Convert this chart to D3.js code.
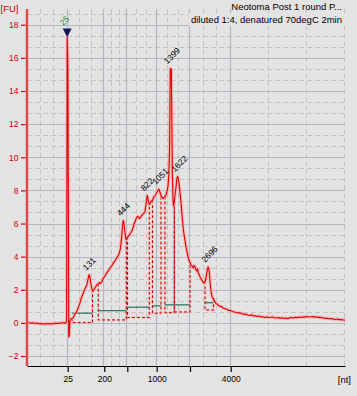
<!DOCTYPE html>
<html><head><meta charset="utf-8">
<script src="https://cdn.jsdelivr.net/npm/d3@7"></script>
<style>html,body{margin:0;padding:0;background:#e3e3e3;} svg{display:block;}</style>
</head><body>
<svg id="c" width="357" height="396"></svg>
<script>
// ---------- data ----------
const titleText = "Neotoma Post 1 round P...";
const subtitleText = "diluted 1:4, denatured 70degC 2min";
const yUnit = "[FU]";
const xUnit = "[nt]";
// migration time (s) of ladder fragments and their sizes (nt)
const ladderSizes = [25, 200, 500, 1000, 2000, 4000];
const ladderTimes = [25.40, 31.15, 34.77, 39.39, 44.63, 51.03];
const ladderLabels = ["25", "200", "", "1000", "", "4000"];
const timeRange = [19, 69];
const yTicks = [-2, 0, 2, 4, 6, 8, 10, 12, 14, 16, 18];
const fuRange = [-2.6, 18.95];

// electropherogram trace: time (s) and fluorescence (FU)
const traceTime = [
 19.0,19.3,19.6,19.9,20.2,20.5,20.8,21.1,21.4,21.7,22.0,22.3,22.6,22.9,23.2,23.5,23.8,24.1,24.4,24.7,25.0,25.15,
 25.23,25.32,25.42,25.51,25.57,25.65,25.73,25.81,26.00,26.23,26.47,26.81,27.10,27.33,27.60,27.85,28.12,28.39,28.56,28.69,28.80,28.91,29.02,29.17,29.33,29.49,29.69,29.96,
 30.16,30.37,30.56,30.75,31.00,31.26,31.53,31.78,32.05,32.32,32.57,32.84,33.10,33.31,33.51,33.67,33.78,33.89,33.98,34.09,34.17,34.25,34.36,34.46,34.57,34.68,34.80,34.93,
 35.12,35.27,35.46,35.67,35.82,35.98,36.14,36.34,36.53,36.66,36.77,36.92,37.08,37.24,37.40,37.55,37.68,37.79,37.90,37.99,38.10,38.23,38.39,38.53,38.65,38.81,38.97,
 39.13,39.28,39.44,39.60,39.72,39.83,39.99,40.15,40.30,40.46,40.62,40.78,40.90,41.04,41.17,41.30,41.41,41.53,41.69,41.77,41.86,41.96,42.03,42.14,42.27,42.43,42.58,42.69,
 42.79,42.90,43.02,43.13,43.25,43.36,43.47,43.59,43.72,43.84,43.97,44.11,44.25,44.39,44.52,44.66,44.82,44.97,45.15,45.29,45.42,45.57,45.70,45.82,45.93,46.09,46.28,46.44,
 46.59,46.74,46.88,47.03,47.14,47.25,47.35,47.46,47.55,47.66,47.76,47.87,47.98,48.09,48.25,48.40,48.56,48.72,48.87,49.03,49.19,49.35,49.58,49.82,50.05,50.29,50.53,50.76,51.00,
 51.3,51.6,51.9,52.2,52.5,52.8,53.1,53.4,53.7,54.0,54.3,54.6,54.9,55.2,55.5,55.8,56.1,56.4,56.7,57.0,57.3,57.6,57.9,58.2,58.5,58.8,59.1,59.4,59.7,60.0,
 60.3,60.6,60.9,61.2,61.5,61.8,62.1,62.4,62.7,63.0,63.3,63.6,63.9,64.2,64.5,64.8,65.1,65.4,65.7,66.0,66.3,66.6,66.9,67.2,67.5,67.8,68.1,68.4,68.7,69.0
];
const traceFU = [
 0.00,0.03,-0.02,0.01,-0.03,0.00,-0.05,-0.03,-0.07,-0.05,-0.06,-0.04,-0.07,-0.03,-0.05,-0.01,-0.03,0.00,-0.02,0.02,-0.01,0.02,
 0.06,17.25,15.80,6.82,-0.84,-0.78,0.06,0.18,0.27,0.30,0.48,0.68,0.97,1.21,1.57,1.81,2.08,2.26,2.59,2.83,2.90,2.71,2.41,2.11,1.90,1.99,2.11,2.29,
 2.35,2.44,2.38,2.47,2.71,2.83,3.02,3.14,3.32,3.44,3.62,3.74,3.92,4.04,4.22,4.46,4.76,5.25,5.67,6.09,6.18,5.97,5.61,5.31,5.04,5.07,5.19,5.22,
 5.31,5.43,5.52,5.73,5.97,6.12,6.27,6.42,6.39,6.30,6.33,6.42,6.51,6.57,6.63,6.73,7.06,7.42,7.69,7.60,7.30,7.15,7.24,7.36,7.33,7.48,7.63,
 7.69,7.78,7.90,7.99,8.08,7.99,7.78,7.60,7.57,7.51,7.60,7.66,7.78,7.99,8.26,8.93,10.43,15.36,15.32,12.42,8.93,7.42,7.06,7.24,7.72,8.20,8.75,8.84,
 8.69,8.44,8.02,7.60,7.12,6.57,6.09,5.61,5.25,5.01,4.64,4.40,4.10,3.89,3.74,3.62,3.47,3.44,3.32,3.47,3.38,3.20,3.14,3.26,3.02,2.90,2.71,2.62,
 2.53,2.41,2.47,2.53,2.71,2.96,3.20,3.38,3.32,3.08,2.59,2.17,1.81,1.60,1.48,1.39,1.27,1.18,1.15,1.09,1.03,1.00,1.00,0.90,0.87,0.84,0.81,0.75,0.75,
 0.69,0.66,0.63,0.60,0.62,0.57,0.51,0.53,0.48,0.45,0.49,0.42,0.43,0.39,0.42,0.36,0.37,0.33,0.36,0.33,0.34,0.36,0.31,0.30,0.33,0.29,0.31,0.27,0.30,0.26,
 0.31,0.33,0.30,0.34,0.32,0.36,0.33,0.37,0.35,0.39,0.36,0.37,0.39,0.35,0.37,0.33,0.35,0.30,0.31,0.27,0.28,0.24,0.27,0.23,0.21,0.24,0.20,0.21,0.18,0.17
];

// lower marker
const markerSize = "25";
const markerTime = 25.32;
const markerFU = 17.25;
const markerLevelStart = 24.97, markerLevelEnd = 25.44, markerLevelFU = 1.99;

// called peaks: size label (nt), migration time (s), height (FU)
const peakSizes = ["131", "444", "822", "1051", "1399", "1622", "2696"];
const peakTimes = [28.80, 34.17, 37.90, 39.72, 41.53, 42.69, 47.46];
const peakFU = [2.90, 6.18, 7.69, 8.08, 15.36, 8.84, 3.38];

// integration regions: start/end time (s), baseline (FU), level line (FU)
const regionStart = [26.08, 30.21, 34.80, 38.73, 40.70, 42.16, 46.99];
const regionEnd = [29.30, 34.61, 38.23, 40.07, 42.16, 44.63, 48.32];
const regionBase = [0.02, 0.18, 0.33, 0.59, 0.62, 0.66, 0.78];
const regionLevel = [0.59, 0.74, 0.95, 1.03, 1.09, 1.09, 1.22];

// ---------- drawing ----------
const W = 357, H = 396;
const plot = {left: 27, right: 345, top: 9, bottom: 366};
const BG = "#e3e3e3";
const FONT = "'Liberation Sans', Arial, sans-serif";

const svg = d3.select("#c");
svg.append("rect").attr("width", W).attr("height", H).attr("fill", BG);

const x = d3.scaleLinear().domain(timeRange).range([plot.left, plot.right]);
const y = d3.scaleLinear().domain(fuRange).range([plot.bottom, plot.top]);

// grid
const grid = svg.append("g");
const minorH = [];
yTicks.forEach(v => { [v + 2/3, v + 4/3].forEach(m => { if (m < fuRange[1]) minorH.push(m); }); });
grid.selectAll(".mh").data(minorH).join("line")
  .attr("x1", plot.left).attr("x2", plot.right)
  .attr("y1", d => Math.round(y(d)) + 0.5).attr("y2", d => Math.round(y(d)) + 0.5)
  .attr("stroke", "#c3c3c3").attr("stroke-dasharray", "5,3");
const bounds = [timeRange[0], ...ladderTimes, timeRange[1]];
const minorV = [];
for (let i = 0; i < bounds.length - 1; i++) {
  const a = bounds[i], b = bounds[i + 1];
  minorV.push(a + (b - a) / 3, a + 2 * (b - a) / 3);
}
minorV.push(timeRange[1]);
grid.selectAll(".mv").data(minorV).join("line")
  .attr("x1", d => Math.round(x(d)) - 0.5).attr("x2", d => Math.round(x(d)) - 0.5)
  .attr("y1", plot.top).attr("y2", plot.bottom)
  .attr("stroke", "#c3c3c3").attr("stroke-dasharray", "5,3");
grid.selectAll(".Mh").data(yTicks).join("line")
  .attr("x1", plot.left).attr("x2", plot.right)
  .attr("y1", d => Math.round(y(d)) + 0.5).attr("y2", d => Math.round(y(d)) + 0.5)
  .attr("stroke", "#b3b7c4").attr("stroke-width", 1.2);
grid.selectAll(".Mv").data(ladderTimes).join("line")
  .attr("x1", d => Math.round(x(d)) - 0.5).attr("x2", d => Math.round(x(d)) - 0.5)
  .attr("y1", plot.top).attr("y2", plot.bottom)
  .attr("stroke", "#b3b7c4").attr("stroke-width", 1.2);

// titles
const t1 = svg.append("text").attr("x", 342).attr("y", 10).attr("text-anchor", "end")
  .attr("font-family", FONT).attr("font-size", "9.5px").attr("fill", "#000").text(titleText);
const t2 = svg.append("text").attr("x", 342).attr("y", 22.5).attr("text-anchor", "end")
  .attr("font-family", FONT).attr("font-size", "9.5px").attr("fill", "#000").text(subtitleText);
const bb = t2.node().getBBox();
svg.insert("rect", () => t2.node())
  .attr("x", bb.x - 2).attr("y", 13).attr("width", plot.right - bb.x + 2).attr("height", 13)
  .attr("fill", BG);

// trace helpers
const trace = traceTime.map((t, i) => ({t, v: traceFU[i]}));
const bis = d3.bisector(d => d.t).left;
function fuAt(t) {
  const i = Math.max(1, Math.min(trace.length - 1, bis(trace, t)));
  const a = trace[i - 1], b = trace[i];
  return a.v + (b.v - a.v) * (t - a.t) / (b.t - a.t);
}

// clip
svg.append("clipPath").attr("id", "clip").append("rect")
  .attr("x", plot.left).attr("y", plot.top).attr("width", plot.right - plot.left).attr("height", plot.bottom - plot.top);
const pg = svg.append("g").attr("clip-path", "url(#clip)");

// integration regions
const regions = regionStart.map((s, i) => ({s, e: regionEnd[i], base: regionBase[i], lvl: regionLevel[i]}));
const regPath = r => {
  const p = d3.path();
  p.moveTo(x(r.s), y(fuAt(r.s)));
  p.lineTo(x(r.s), y(r.base));
  p.lineTo(x(r.e), y(r.base));
  p.lineTo(x(r.e), y(fuAt(r.e)));
  return p.toString();
};
pg.selectAll(".rg").data(regions).join("path").attr("d", regPath)
  .attr("fill", "none").attr("stroke", "#f3b0b0").attr("stroke-width", 2.6).attr("stroke-dasharray", "3,2").attr("opacity", 0.7);
pg.selectAll(".rl").data(regions).join("path").attr("d", regPath)
  .attr("fill", "none").attr("stroke", "#cc0000").attr("stroke-width", 1).attr("stroke-dasharray", "3,2");
pg.selectAll(".lv").data(regions).join("line")
  .attr("x1", d => x(d.s)).attr("x2", d => x(d.e))
  .attr("y1", d => y(d.lvl)).attr("y2", d => y(d.lvl))
  .attr("stroke", "#2b6e58").attr("stroke-width", 1.2);
pg.append("line").attr("x1", x(markerLevelStart)).attr("x2", x(markerLevelEnd))
  .attr("y1", y(markerLevelFU)).attr("y2", y(markerLevelFU))
  .attr("stroke", "#2b6e58").attr("stroke-width", 1.2);

// trace
const line = d3.line().x(d => x(d.t)).y(d => y(d.v));
pg.append("path").datum(trace).attr("d", line).attr("fill", "none")
  .attr("stroke", "#f6a8a8").attr("stroke-width", 3.2).attr("stroke-linejoin", "round").attr("opacity", 0.75);
pg.append("path").datum(trace).attr("d", line).attr("fill", "none")
  .attr("stroke", "#e00000").attr("stroke-width", 1.1).attr("stroke-linejoin", "round");

// y axis
const yAxis = svg.append("g").attr("transform", `translate(${plot.left},0)`)
  .call(d3.axisLeft(y).tickValues(yTicks).tickSize(6).tickPadding(2.5).tickSizeOuter(0));
yAxis.select(".domain").remove();
yAxis.selectAll(".tick line").attr("stroke", "#d00000").attr("stroke-width", 1.2);
yAxis.selectAll(".tick text").attr("fill", "#d00000").attr("font-family", FONT).attr("font-size", "8.5px");
svg.append("line").attr("x1", plot.left).attr("x2", plot.left).attr("y1", plot.top).attr("y2", plot.bottom)
  .attr("stroke", "#f4a6a6").attr("stroke-width", 3.5).attr("opacity", 0.8);
svg.append("line").attr("x1", plot.left).attr("x2", plot.left).attr("y1", plot.top).attr("y2", plot.bottom)
  .attr("stroke", "#d00000").attr("stroke-width", 1.2);

// x axis
const xAxis = svg.append("g").attr("transform", `translate(0,${plot.bottom})`)
  .call(d3.axisBottom(x).tickValues(ladderTimes).tickFormat((d, i) => ladderLabels[i]).tickSize(6).tickPadding(4).tickSizeOuter(0));
xAxis.select(".domain").attr("stroke", "#000").attr("stroke-width", 1.2);
xAxis.selectAll(".tick line").attr("stroke", "#000").attr("stroke-width", 1.2);
xAxis.selectAll(".tick text").attr("fill", "#000").attr("font-family", FONT).attr("font-size", "8.5px");

// units
svg.append("text").attr("x", 0.5).attr("y", 11.5).attr("font-family", FONT).attr("font-size", "9.5px")
  .attr("fill", "#d00000").text(yUnit);
svg.append("text").attr("x", 351).attr("y", 383).attr("text-anchor", "end").attr("font-family", FONT)
  .attr("font-size", "9.5px").attr("fill", "#000").text(xUnit);

// marker triangle + label
const mx = x(markerTime), my = y(markerFU);
svg.append("path").attr("d", d3.line()([[mx - 4.5, my - 8.7], [mx + 4.5, my - 8.7], [mx, my]]) + "Z")
  .attr("fill", "#15155c");
svg.append("text").attr("transform", `translate(${mx - 4},${my - 11}) rotate(-45)`)
  .attr("font-family", FONT).attr("font-size", "8.5px").attr("fill", "#1f8a2a").text(markerSize);

// peak labels
svg.selectAll(".pk").data(peakSizes).join("text")
  .attr("transform", (d, i) => `translate(${x(peakTimes[i]) - 3},${y(peakFU[i]) - 4}) rotate(-45)`)
  .attr("font-family", FONT).attr("font-size", "8.5px").attr("fill", "#000").text(d => d);
</script>
</body></html>
